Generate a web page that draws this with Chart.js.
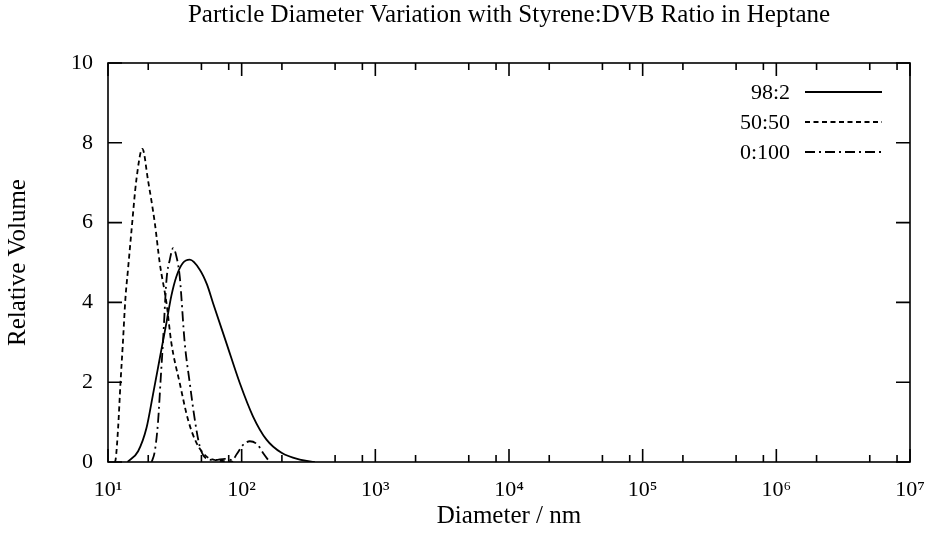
<!DOCTYPE html>
<html>
<head>
<meta charset="utf-8">
<script src="https://cdn.jsdelivr.net/npm/chart.js@4"></script>
<style>
  html, body { margin: 0; padding: 0; background: #fff; }
  #wrap { width: 927px; height: 547px; }
</style>
</head>
<body>
<div id="wrap"><canvas id="psd"></canvas></div>
<script>
// === Data ===
const seriesNames = ["98:2", "50:50", "0:100"];

// 98:2 (solid)
const diam982 = [14.0, 16.8, 19.4, 21.7, 24.4, 27.4, 29.8, 32.5, 36.2, 40.9, 48.6, 55, 61.1, 76.9, 96.8, 121.7, 153.4, 198.7, 272, 352];
const vol982  = [0, 0.27, 0.85, 1.69, 2.6, 3.5, 4.17, 4.65, 4.98, 5.07, 4.82, 4.45, 3.98, 2.98, 1.98, 1.14, 0.56, 0.23, 0.06, 0];

// 50:50 (dashed)
const diam5050 = [11.2, 11.4, 11.9, 12.4, 12.9, 13.5, 14.1, 15.0, 16.3, 18.1, 19.9, 22.4, 24.4, 27.4, 29.8, 34.4, 39.7, 45.9, 54.5, 63, 75, 90];
const vol5050  = [0, 0.06, 0.85, 1.98, 2.94, 4.1, 4.81, 5.81, 7.07, 7.85, 7.07, 5.99, 4.98, 3.98, 2.98, 1.98, 1.06, 0.48, 0.14, 0.05, 0.02, 0];

// 0:100 (dash-dot)
const diam0100 = [21.2, 22.4, 23.7, 24.8, 25.8, 27.4, 29.0, 30.7, 32.5, 34.4, 37.5, 40.9, 44.6, 48.6, 53.8, 63, 75, 85, 92, 102, 115, 132, 145, 162];
const vol0100  = [0, 0.27, 1.02, 2.1, 3.02, 4.57, 5.07, 5.36, 5.15, 4.65, 2.98, 1.98, 1.06, 0.39, 0.1, 0.05, 0.08, 0.05, 0.2, 0.42, 0.52, 0.43, 0.22, 0];

// axes
const xMajorTicks = [1e1, 1e2, 1e3, 1e4, 1e5, 1e6, 1e7];
const xMinorMult = [2, 5, 8];
const xTickLabels = ["10¹", "10²", "10³", "10⁴", "10⁵", "10⁶", "10⁷"];
const yTicks = [0, 2, 4, 6, 8, 10];

const pairs = (xs, ys) => xs.map((x, i) => ({ x: x, y: ys[i] }));

const serif = "'Liberation Serif', 'DejaVu Serif', serif";
Chart.defaults.font.family = serif;
Chart.defaults.font.size = 22;
Chart.defaults.color = "#000";

// frame, inward ticks and legend, gnuplot style
const framePlugin = {
  id: "frame",
  afterDraw(chart) {
    const c = chart.ctx;
    const a = chart.chartArea;
    const sx = chart.scales.x;
    const sy = chart.scales.y;
    c.save();
    c.strokeStyle = "#000";
    c.lineWidth = 1.6;
    c.setLineDash([]);
    c.strokeRect(a.left, a.top, a.right - a.left, a.bottom - a.top);

    c.beginPath();
    xMajorTicks.forEach(v => {
      const px = sx.getPixelForValue(v);
      c.moveTo(px, a.bottom); c.lineTo(px, a.bottom - 13);
      c.moveTo(px, a.top); c.lineTo(px, a.top + 13);
    });
    xMajorTicks.slice(0, -1).forEach(d => {
      xMinorMult.forEach(m => {
        const px = sx.getPixelForValue(d * m);
        c.moveTo(px, a.bottom); c.lineTo(px, a.bottom - 7);
        c.moveTo(px, a.top); c.lineTo(px, a.top + 7);
      });
    });
    yTicks.forEach(v => {
      const py = sy.getPixelForValue(v);
      c.moveTo(a.left, py); c.lineTo(a.left + 14, py);
      c.moveTo(a.right, py); c.lineTo(a.right - 14, py);
    });
    c.stroke();

    // legend
    c.font = "22px " + serif;
    c.fillStyle = "#000";
    c.textAlign = "right";
    c.textBaseline = "middle";
    chart.data.datasets.forEach((ds, i) => {
      const ly = 92 + i * 30;
      c.fillText(ds.label, 790, ly + 1);
      c.beginPath();
      c.lineWidth = ds.borderWidth;
      c.setLineDash(ds.borderDash || []);
      c.moveTo(805, ly); c.lineTo(882, ly);
      c.stroke();
    });
    c.restore();
  }
};

const common = {
  borderColor: "#000",
  backgroundColor: "#000",
  borderWidth: 1.8,
  pointRadius: 0,
  fill: false,
  cubicInterpolationMode: "monotone"
};

new Chart(document.getElementById("psd"), {
  type: "line",
  data: {
    datasets: [
      { ...common, label: seriesNames[0], data: pairs(diam982, vol982), borderDash: [] },
      { ...common, label: seriesNames[1], data: pairs(diam5050, vol5050), borderDash: [5, 3.5] },
      { ...common, label: seriesNames[2], data: pairs(diam0100, vol0100), borderDash: [10, 4, 2, 4] }
    ]
  },
  options: {
    responsive: true,
    maintainAspectRatio: false,
    animation: false,
    layout: { padding: { left: 0, right: 17, top: 0, bottom: 0 } },
    plugins: {
      legend: { display: false },
      tooltip: { enabled: false },
      title: {
        display: true,
        fullSize: false,
        text: "Particle Diameter Variation with Styrene:DVB Ratio in Heptane",
        font: { size: 25, weight: "normal" },
        padding: { top: 0, bottom: 33 }
      }
    },
    scales: {
      x: {
        type: "logarithmic",
        min: 10,
        max: 1e7,
        grid: { display: false, drawTicks: false },
        border: { display: false },
        afterBuildTicks: scale => {
          scale.ticks = xMajorTicks.map(v => ({ value: v }));
        },
        afterFit: scale => {
          scale.height = 85;
          scale.paddingLeft = 0;
          scale.paddingRight = 0;
        },
        ticks: {
          padding: 15,
          maxRotation: 0,
          autoSkip: false,
          callback: (value) => {
            const i = xMajorTicks.indexOf(value);
            return i >= 0 ? xTickLabels[i] : "";
          }
        },
        title: {
          display: true,
          text: "Diameter / nm",
          font: { size: 25 },
          padding: { top: 0, bottom: 16 }
        }
      },
      y: {
        min: 0,
        max: 10,
        grid: { display: false, drawTicks: false },
        border: { display: false },
        afterBuildTicks: scale => {
          scale.ticks = yTicks.map(v => ({ value: v }));
        },
        afterFit: scale => {
          scale.width = 108;
          scale.paddingTop = 0;
          scale.paddingBottom = 0;
        },
        ticks: { padding: 15 },
        title: {
          display: true,
          text: "Relative Volume",
          font: { size: 25 },
          padding: { top: 3, bottom: 0 }
        }
      }
    }
  },
  plugins: [framePlugin]
});
</script>
</body>
</html>
